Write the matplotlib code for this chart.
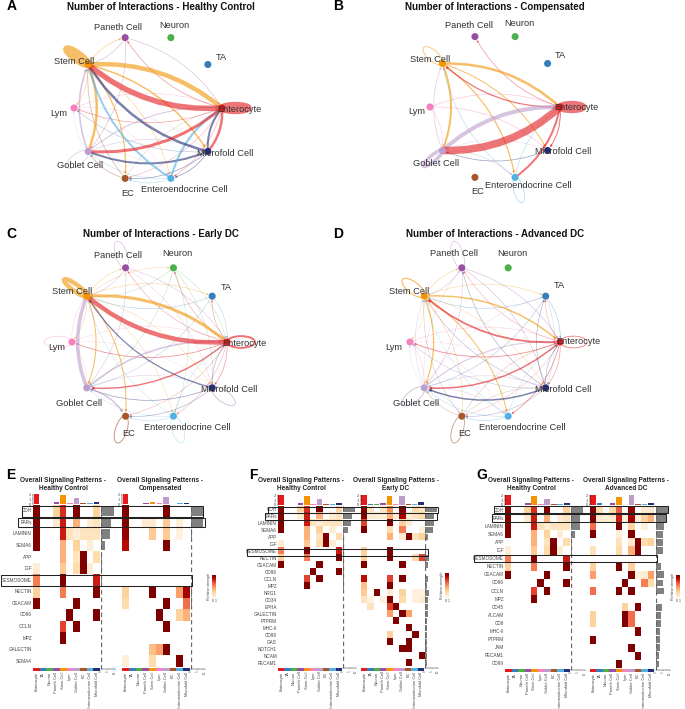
import numpy as np
import matplotlib
matplotlib.use('Agg')
import matplotlib.pyplot as plt
from matplotlib.patches import FancyArrowPatch, Ellipse, Rectangle
from matplotlib.cm import ScalarMappable
from matplotlib.colors import Normalize

plt.rcParams['font.family'] = ['Liberation Sans', 'DejaVu Sans']

W, H = 685, 709

cells = ["Enterocyte", "TA", "Neuron", "Paneth Cell", "Stem Cell", "Lym", "Goblet Cell", "EC",
         "Enteroendocrine Cell", "Microfold Cell"]
cell_colors = ['#E41A1C', '#377EB8', '#4DAF4A', '#984EA3', '#F29403', '#F781BF', '#BC9DCC', '#A65628',
               '#54B0E4', '#222F75']
ENT, TA, NEU, PAN, STEM, LYM, GOB, EC, EE, MIC = range(10)

# (from, to, width)
edges_healthy = [(GOB, EE, .3), (EE, GOB, .5), (LYM, MIC, .3), (MIC, LYM, .4), (ENT, LYM, .6), (LYM, ENT, .5),
                 (ENT, EC, .4), (EC, ENT, .3), (ENT, EE, .5), (STEM, EE, .6), (LYM, EE, .3), (GOB, LYM, .3),
                 (PAN, ENT, .5), (ENT, PAN, .7), (STEM, PAN, .7), (PAN, STEM, .5), (PAN, GOB, .5), (STEM, LYM, .5),
                 (GOB, ENT, 1), (MIC, EE, .8), (EE, EC, .6), (MIC, EC, .7), (EC, GOB, .7), (EC, STEM, .7),
                 (STEM, EC, 1.2), (GOB, MIC, .7), (MIC, GOB, 2), (GOB, STEM, 1.6), (STEM, GOB, 2.5),
                 (EE, STEM, 2), (EE, ENT, 2.2), (MIC, ENT, 2), (ENT, MIC, 2.5), (STEM, MIC, 1.5), (MIC, STEM, 2.5),
                 (ENT, GOB, 3), (STEM, ENT, 4.5), (ENT, STEM, 5.5)]
loops_healthy = [(STEM, 6.5), (ENT, 6), (GOB, .6)]

edges_compensated = [(ENT, PAN, .7), (LYM, ENT, .7), (LYM, MIC, .7), (LYM, GOB, .5), (GOB, EE, .6),
                     (MIC, GOB, .7), (GOB, MIC, .4), (EE, STEM, .6), (EE, ENT, .6), (ENT, MIC, 1), (GOB, STEM, .8),
                     (STEM, EE, 1.2), (STEM, MIC, 1), (STEM, GOB, 2), (ENT, EE, 2), (ENT, STEM, 1.2),
                     (STEM, ENT, 2.5), (GOB, ENT, 4), (ENT, GOB, 7.5)]
loops_compensated = [(STEM, .8), (ENT, 6), (GOB, 3.5), (EE, .6)]

edges_early = [(NEU, ENT, .4), (ENT, NEU, .5), (NEU, MIC, .4), (NEU, GOB, .4), (NEU, STEM, .4), (NEU, EE, .4),
               (STEM, NEU, .4), (PAN, STEM, .4), (STEM, PAN, .5), (PAN, ENT, .4), (ENT, PAN, .5), (PAN, GOB, .4),
               (PAN, MIC, .3), (TA, STEM, .5), (STEM, TA, .5), (TA, GOB, .4), (ENT, TA, .5), (TA, ENT, .4),
               (LYM, STEM, .4), (STEM, LYM, .5), (STEM, EE, .4), (EE, STEM, .4), (EE, GOB, .4), (EE, EC, .5),
               (MIC, GOB, .7), (GOB, MIC, .6), (MIC, EC, .5), (ENT, EC, .4), (ENT, EE, .4), (EE, ENT, .4),
               (LYM, MIC, .3), (LYM, GOB, .3), (ENT, MIC, .7), (MIC, ENT, .5), (ENT, LYM, .8), (LYM, ENT, .4),
               (STEM, EC, 1), (MIC, STEM, 1.2), (STEM, MIC, .4), (ENT, GOB, 1.4), (GOB, ENT, 1.5), (GOB, EC, 1.6),
               (STEM, GOB, 1), (GOB, STEM, 3.5), (STEM, ENT, 3), (ENT, STEM, 4.5)]
loops_early = [(STEM, 4.5), (ENT, 2), (LYM, .5), (MIC, .4), (EC, 1), (EE, .4), (PAN, .4)]

edges_advanced = [(STEM, PAN, .5), (PAN, STEM, .4), (PAN, ENT, .5), (ENT, PAN, .4), (PAN, MIC, .5), (MIC, PAN, .5),
                  (PAN, GOB, .4), (GOB, PAN, .4), (STEM, TA, .5), (TA, STEM, .5), (TA, GOB, .5), (GOB, TA, .3),
                  (ENT, TA, .4), (TA, ENT, .5), (MIC, TA, .5), (TA, MIC, .3), (LYM, GOB, .4), (GOB, LYM, .3),
                  (LYM, MIC, .3), (MIC, LYM, .3), (LYM, EE, .3), (STEM, LYM, .3), (LYM, ENT, .5), (STEM, MIC, .4),
                  (MIC, STEM, .4), (STEM, EC, .5), (EC, STEM, .4), (EC, ENT, .4), (ENT, EC, .3), (EC, GOB, .5),
                  (GOB, EC, .4), (GOB, EE, .5), (EE, GOB, .5), (EE, EC, .6), (MIC, EC, .4), (EC, MIC, .4),
                  (ENT, MIC, .6), (MIC, ENT, .5), (EE, STEM, .4), (EE, ENT, .4), (ENT, EE, .8), (ENT, LYM, .9),
                  (GOB, MIC, .6), (GOB, STEM, .5), (STEM, GOB, 1.2), (STEM, EE, 1), (GOB, ENT, 1), (MIC, GOB, 1.5),
                  (ENT, GOB, 1.5), (STEM, ENT, 1.5), (ENT, STEM, 1.8)]
loops_advanced = [(STEM, 1.2), (ENT, .8), (PAN, .4), (GOB, 1), (EC, .8)]

# signaling pathways, per heatmap
rows_e = ["CDH", "PARs", "LAMININ", "SEMA6", "APP", "IGF", "DESMOSOME", "NECTIN", "CEACAM", "CD96", "OCLN", "MPZ",
          "GALECTIN", "SEMA4"]
rows_f = ["CDH", "PARs", "LAMININ", "SEMA6", "APP", "IGF", "DESMOSOME", "NECTIN", "CEACAM", "CD96", "OCLN", "MPZ",
          "NRG1", "CD34", "EPHA", "GALECTIN", "PTPRM", "MHC-II", "CD99", "GAS", "NOTCH1", "NCAM", "PECAM1"]
rows_g = ["CDH", "PARs", "LAMININ", "SEMA6", "APP", "IGF", "DESMOSOME", "NECTIN", "CEACAM", "CD96", "OCLN", "MPZ",
          "CD45", "ALCAM", "CD6", "MHC-II", "PTPRM", "JAM", "PECAM1", "CD99"]

healthy_vals = [[1, 0, 0, .25, .75, 0, 1, 0, 0, .25],
                [1, 0, 0, .1, .8, 0, .4, 0, .08, .15],
                [1, 0, 0, 0, .8, .15, .08, .15, .15, .15],
                [1, 0, 0, 0, .4, 0, .25, 0, .08, 0],
                [0, 0, 0, 0, .4, 0, .15, 1, 0, .2],
                [.08, 0, 0, 0, .3, 0, .2, 1, .08, 0],
                [.55, 0, 0, 0, 1, 0, 0, 0, 0, .8],
                [.25, 0, 0, 0, .55, 0, 0, 0, 0, 1],
                [1, 0, 0, 0, 0, 0, 1, 0, 0, 0],
                [0, 0, 0, 0, 0, 1, 0, 0, 0, 1],
                [0, 0, 0, 0, .7, 0, 1, 0, 0, 0],
                [0, 0, 0, 0, 1, 0, 0, 0, 0, 0]]

compensated_vals = [[1, 0, 0, 0, 0, 0, 1, 0, 0, 0],
                    [1, 0, 0, .1, .1, 0, .3, 0, .08, 0],
                    [.95, 0, 0, 0, .3, 0, .3, 0, .05, 0],
                    [.85, 0, 0, 0, 0, 0, 1, 0, 0, 0],
                    [0, 0, 0, 0, 0, 0, 0, 0, 0, 0],
                    [0, 0, 0, 0, 0, 0, 0, 0, 0, 0],
                    [0, 0, 0, 0, 0, 0, 0, 0, 0, 0],
                    [.25, 0, 0, 0, 1, 0, 0, 0, .45, .9],
                    [.2, 0, 0, 0, 0, 0, 1, 0, 0, .6],
                    [0, 0, 0, 0, 0, 1, 0, 0, .25, .4],
                    [0, 0, 0, 0, 0, 0, 1, 0, 0, 0],
                    [0, 0, 0, 0, 0, 0, 0, 0, 0, 0],
                    [0, 0, 0, 0, .35, .45, 1, 0, 0, 0],
                    [.06, 0, 0, 0, .2, 0, 0, 0, 1, 0]]

early_vals = [[1, .15, 0, .15, .5, 0, 1, 0, .2, .15],
              [1, .1, .08, .08, .4, .05, .9, .08, .15, .2],
              [.7, 0, 0, 0, 1, 0, .25, .1, 0, 0],
              [1, 0, 0, 0, .2, 0, .55, 0, 0, .05],
              [0, 0, 0, 0, .4, 0, .1, 1, .15, .25],
              [0, 0, 0, 0, 0, 0, 0, 0, 0, 0],
              [.25, 0, 0, 0, 1, 0, 0, 0, 0, 0],
              [.25, 0, 0, 0, 1, 0, 0, 0, .2, .7],
              [1, 0, 0, 0, 0, 0, 1, 0, 0, 0],
              [0, 0, 0, 0, 0, 0, 0, 0, 0, 0],
              [.85, 0, 0, 0, .7, 0, 1, 0, 0, 0],
              [.35, 0, 0, 0, 1, 0, 0, 0, 0, 0],
              [.3, 0, 1, 0, .1, 0, .25, 0, .05, .05],
              [.15, .05, 0, .05, 1, 0, .2, 0, .05, .1],
              [0, .15, 0, 0, .7, 1, 0, 0, 0, 0],
              [0, 0, 0, 0, .45, 0, 1, .45, 0, 0],
              [0, 0, 0, 0, 0, 1, 0, 0, 0, 0],
              [0, 0, 0, 0, 0, 0, 0, 1, 0, 0],
              [0, 0, 0, 0, .25, 0, 0, 0, 1, 0],
              [0, 0, 0, 0, 1, 0, 0, 1, 0, 0],
              [0, 0, 0, 0, 0, 0, 1, 1, 0, 0],
              [0, 0, 0, 0, 0, 0, 0, 0, 0, 1],
              [0, 0, 0, 0, 0, 0, 0, 1, 0, 0]]

advanced_vals = [[1, .2, 0, .2, .65, 0, .95, 0, .1, .1],
                 [1, .1, .08, .1, .8, .05, .9, .05, .25, .4],
                 [.6, 0, 0, 0, 1, 0, .25, 0, .06, 0],
                 [1, 0, 0, 0, .06, 0, 1, 0, 0, 0],
                 [0, 0, 0, 0, .15, 0, .1, 1, .2, .25],
                 [.15, 0, 0, 0, .2, 0, .4, 1, 0, 0],
                 [0, 0, 0, 0, 0, 0, 0, 0, 0, 0],
                 [.25, 0, 0, 0, 1, 0, .25, 0, 0, 0],
                 [.45, 0, 0, 0, 0, 0, 1, .05, .1, .45],
                 [0, 0, 0, 0, 0, 1, 0, 0, .55, .2],
                 [.6, 0, 0, 0, 1, 0, 1, 0, 0, 0],
                 [0, 0, 0, 0, 0, 0, 0, 0, 0, 0],
                 [0, 0, 0, 0, 0, .25, 0, 1, 0, 0],
                 [.25, 0, 0, 0, 0, 1, .6, 0, 0, 0],
                 [.25, 0, 0, 0, 0, 1, .6, 0, 0, 0],
                 [0, 0, 0, 0, 0, 0, 0, 1, 0, 0],
                 [1, 0, 0, 0, 0, 0, 0, 0, 0, 0],
                 [0, 0, 0, 0, 0, 0, 1, 0, 0, 0],
                 [0, 0, 0, 0, 0, 0, 0, 1, 0, 0],
                 [0, 0, 0, 0, 1, 0, 0, 0, 0, 0]]

# outgoing strength bars on top of each heatmap
top_healthy = [2.2, .1, .1, .4, 2, .2, 1.3, .3, .15, .5]
top_compensated = [2.3, .05, .05, .2, .4, .2, 1.5, .05, .2, .2]
top_early = [2.1, .2, .15, .4, 2, .2, 2, .2, .3, .7]
top_advanced = [2.2, .4, .1, .5, 1.8, .1, 2.2, .3, .3, .5]

# total strength bars on the right of each heatmap
side_e_left = [13, 10, 9, 4, 1, 1.3, 1, .3, .3, .3, .3, .3, 0, 0]
side_e_right = [11.7, 12, 1, 0, 0, 0, 0, .5, .5, .4, .3, 0, .4, .3]
side_f_left = [12, 9, 8, 5, .8, .8, .8, .8, .6, .6, .5, .5, 0, 0, 0, 0, 0, 0, 0, 0, 0, 0, 0]
side_f_right = [11.5, 9, 8.5, 8, 3, 0, .7, 4, 2.5, .3, 3, 2, 3.5, 3, 2.5, 2.5, 2, 2, 2, 2, 2, 1.5, 1.5]
side_g_left = [12.7, 9.5, 9, 4.5, 1, 1, .8, .8, .7, .7, .6, .6, 0, 0, 0, 0, 0, 0, 0, 0]
side_g_right = [12.5, 10, 8, 7, 6.5, 7, .3, 5, 8, 7, 8, .3, 6, 5, 5, 4, 3.5, 3.5, 3, 2.5]

fig = plt.figure(figsize=(W / 100, H / 100), dpi=100)


def px_axes(x0, y0, x1, y1, **kw):
    return fig.add_axes([x0 / W, 1 - y1 / H, (x1 - x0) / W, (y1 - y0) / H], **kw)


# overlay in pixel coordinates for titles, labels and the black boxes
over = px_axes(0, 0, W, H, zorder=10)
over.set_xlim(0, W)
over.set_ylim(H, 0)
over.axis('off')
over.patch.set_alpha(0)


def circle_plot(cx, cy, rx, ry, edges, loops, title, title_x, title_y, label_pos):
    ax = px_axes(cx - 1.55 * rx, cy - 1.55 * ry, cx + 1.55 * rx, cy + 1.55 * ry)
    ax.set_xlim(-1.55, 1.55)
    ax.set_ylim(-1.55, 1.55)
    ax.axis('off')
    ang = np.deg2rad(np.arange(10) * 36)
    xs, ys = np.cos(ang), np.sin(ang)
    for s, t, w in edges:
        style = '-' if w >= 2 else '-|>,head_length=0.13,head_width=0.05'
        shrink = 0 if w >= 2 else 2.5
        alpha = 0.6 if w >= 1 else 0.45
        ax.add_patch(FancyArrowPatch((xs[s], ys[s]), (xs[t], ys[t]), connectionstyle='arc3,rad=-0.2',
                                     arrowstyle=style, mutation_scale=10, lw=w * 0.72, color=cell_colors[s],
                                     alpha=alpha, shrinkA=shrink, shrinkB=shrink, capstyle='butt'))
    for n, w in loops:
        ln = 0.36
        h = 0.085 if w >= 3 else 0.15
        ax.add_patch(Ellipse((xs[n] * (1 + ln / 2), ys[n] * (1 + ln / 2)), ln, h,
                             angle=np.rad2deg(ang[n]), fill=False, lw=w * 0.72, ec=cell_colors[n], alpha=0.6))
    ax.scatter(xs, ys, s=26, c=cell_colors, zorder=5, linewidths=0)
    for name, (lx, ly) in zip(cells, label_pos):
        over.text(lx, ly, name, fontsize=6.7, ha='center', va='center', color='#333333')
    over.text(title_x, title_y, title, fontsize=7, fontweight='bold', ha='center', va='center', color='#111111')


labels_a = [(239, 109), (221, 57), (174, 26), (118, 28), (74, 62), (59, 114), (80, 166), (128, 194), (184, 189), (225, 153)]
labels_b = [(576, 107), (560, 56), (519, 24), (469, 26), (430, 60), (417, 112), (436, 163), (478, 192), (528, 186), (563, 151)]
labels_c = [(244, 343), (226, 287), (177, 253), (118, 255), (72, 291), (57, 348), (79, 403), (129, 434), (187, 428), (229, 389)]
labels_d = [(578, 342), (559, 286), (512, 253), (454, 254), (409, 291), (394, 348), (416, 403), (465, 433), (522, 428), (563, 389)]

circle_plot(148, 108, 74, 74, edges_healthy, loops_healthy, "Number of Interactions - Healthy Control", 161, 7, labels_a)
circle_plot(495, 107, 65, 74, edges_compensated, loops_compensated, "Number of Interactions - Compensated", 495, 7, labels_b)
circle_plot(149.5, 342, 77.5, 78, edges_early, loops_early, "Number of Interactions - Early DC", 160.5, 234, labels_c)
circle_plot(485, 342, 75, 78, edges_advanced, loops_advanced, "Number of Interactions - Advanced DC", 495, 234, labels_d)

cmap = plt.get_cmap('OrRd').copy()
cmap.set_bad('white')


def heatmap(x0, x1, y0, y1, bar_x0, bar_w, rows, vals, top, side, show_rows, title, title_x):
    vals = np.array(list(vals) + [[0] * 10] * (len(rows) - len(vals)), dtype=float)
    ax = px_axes(x0, y0, x1, y1)
    ax.imshow(np.ma.masked_equal(vals, 0), cmap=cmap, vmin=0, vmax=1, aspect='auto', interpolation='nearest',
              extent=(0, 10, len(rows), 0))
    ax.axis('off')
    if show_rows:
        rh = (y1 - y0) / len(rows)
        for i, r in enumerate(rows):
            over.text(x0 - 1, y0 + (i + 0.5) * rh, r, fontsize=3.3, ha='right', va='center', color='#444444')

    # bars above
    at = px_axes(x0, y0 - 11.5, x1, y0 - 1)
    at.bar(np.arange(10) + 0.5, top, width=0.85, color=cell_colors)
    at.set_xlim(0, 10)
    at.set_ylim(0, 2.3)
    at.set_xticks([])
    at.set_yticks([0, 1, 2])
    at.tick_params(axis='y', labelsize=2.8, length=1, width=0.3, pad=0.5, colors='#444444')
    for s in ['top', 'right', 'bottom']:
        at.spines[s].set_visible(False)
    at.spines['left'].set_linewidth(0.3)
    at.patch.set_alpha(0)

    # bars at the right
    ab = px_axes(bar_x0, y0, bar_x0 + bar_w, y1 + 1.5)
    ab.barh(np.arange(len(rows)) + 0.5, side, height=0.85, color='#808080')
    ab.axvline(0, color='#666666', lw=0.9, dashes=(3.5, 2.5))
    ab.set_xlim(0, bar_w)
    ab.set_ylim(len(rows) + 1.5 / ((y1 - y0) / len(rows)), 0)
    ab.set_yticks([])
    ab.set_xticks([0, bar_w / 2, bar_w])
    ab.set_xticklabels(['0', '5', '10'], rotation=90)
    ab.tick_params(axis='x', labelsize=2.2, length=1, width=0.3, pad=0.4, colors='#555555')
    for s in ['top', 'right', 'left']:
        ab.spines[s].set_visible(False)
    ab.spines['bottom'].set_linewidth(0.3)
    ab.patch.set_alpha(0)

    # colour strip and cell names
    ac = px_axes(x0, y1 + 1, x1, y1 + 4)
    ac.bar(np.arange(10) + 0.5, [1] * 10, width=1, color=cell_colors)
    ac.set_xlim(0, 10)
    ac.set_ylim(0, 1)
    ac.axis('off')
    cw = (x1 - x0) / 10
    for i, c in enumerate(cells):
        over.text(x0 + (i + 0.5) * cw, y1 + 5, c, fontsize=2.9, rotation=90, ha='center', va='top', color='#444444')
    over.text(title_x, 481, "Overall Signaling Patterns -", fontsize=4.7, fontweight='bold', ha='center', va='center', color='#222222')
    over.text(title_x, 488.5, title, fontsize=4.7, fontweight='bold', ha='center', va='center', color='#222222')


heatmap(33, 100, 505, 667, 101, 14, rows_e, healthy_vals, top_healthy, side_e_left, True, "Healthy Control", 63)
heatmap(122, 190, 505, 667, 191, 14, rows_e, compensated_vals, top_compensated, side_e_right, False, "Compensated", 160)
heatmap(278, 342, 506, 666.5, 343, 13, rows_f, healthy_vals, top_healthy, side_f_left, True, "Healthy Control", 301)
heatmap(361, 424, 506, 666.5, 425, 13, rows_f, early_vals, top_early, side_f_right, False, "Early DC", 396)
heatmap(505, 570, 506, 668, 570.5, 14, rows_g, healthy_vals, top_healthy, side_g_left, True, "Healthy Control", 531)
heatmap(590, 654, 506, 668, 656, 14, rows_g, advanced_vals, top_advanced, side_g_right, False, "Advanced DC", 626)

# colour legends
for x0, y0 in [(212, 575), (445, 573), (676, 575)]:
    cax = px_axes(x0, y0, x0 + 4, 598)
    cb = fig.colorbar(ScalarMappable(Normalize(0, 1), cmap='OrRd'), cax=cax)
    cb.set_ticks([])
    cb.outline.set_visible(False)
    over.text(x0 - 3, (y0 + 598) / 2, "Relative strength", fontsize=2.6, rotation=90, ha='center', va='center', color='#444444')
    over.text(x0 + 0.5, 601, "0", fontsize=2.6, ha='center', va='center', color='#444444')
    over.text(x0 + 4, 601, "1", fontsize=2.6, ha='center', va='center', color='#444444')

# highlight boxes around pathways
boxes = [(22, 506, 203, 517), (18, 518, 205, 527), (0.5, 575, 192, 586),
         (268, 507, 438, 512.5), (265, 513, 437, 519.5), (247, 549, 428, 555.5),
         (494, 506, 668, 513), (492, 514, 666, 522), (474, 555, 657, 562)]
for x0, y0, x1, y1 in boxes:
    over.add_patch(Rectangle((x0, y0), x1 - x0, y1 - y0, fill=False, ec='#222222', lw=0.75))

# panel letters
for ch, lx, ly in [('A', 12, 6), ('B', 338, 6), ('C', 11, 234), ('D', 338, 234), ('E', 11, 475), ('F', 253, 475), ('G', 482, 475)]:
    over.text(lx, ly, ch, fontsize=10, fontweight='bold', ha='center', va='center', color='black')

fig.savefig('out.png', dpi=100)
